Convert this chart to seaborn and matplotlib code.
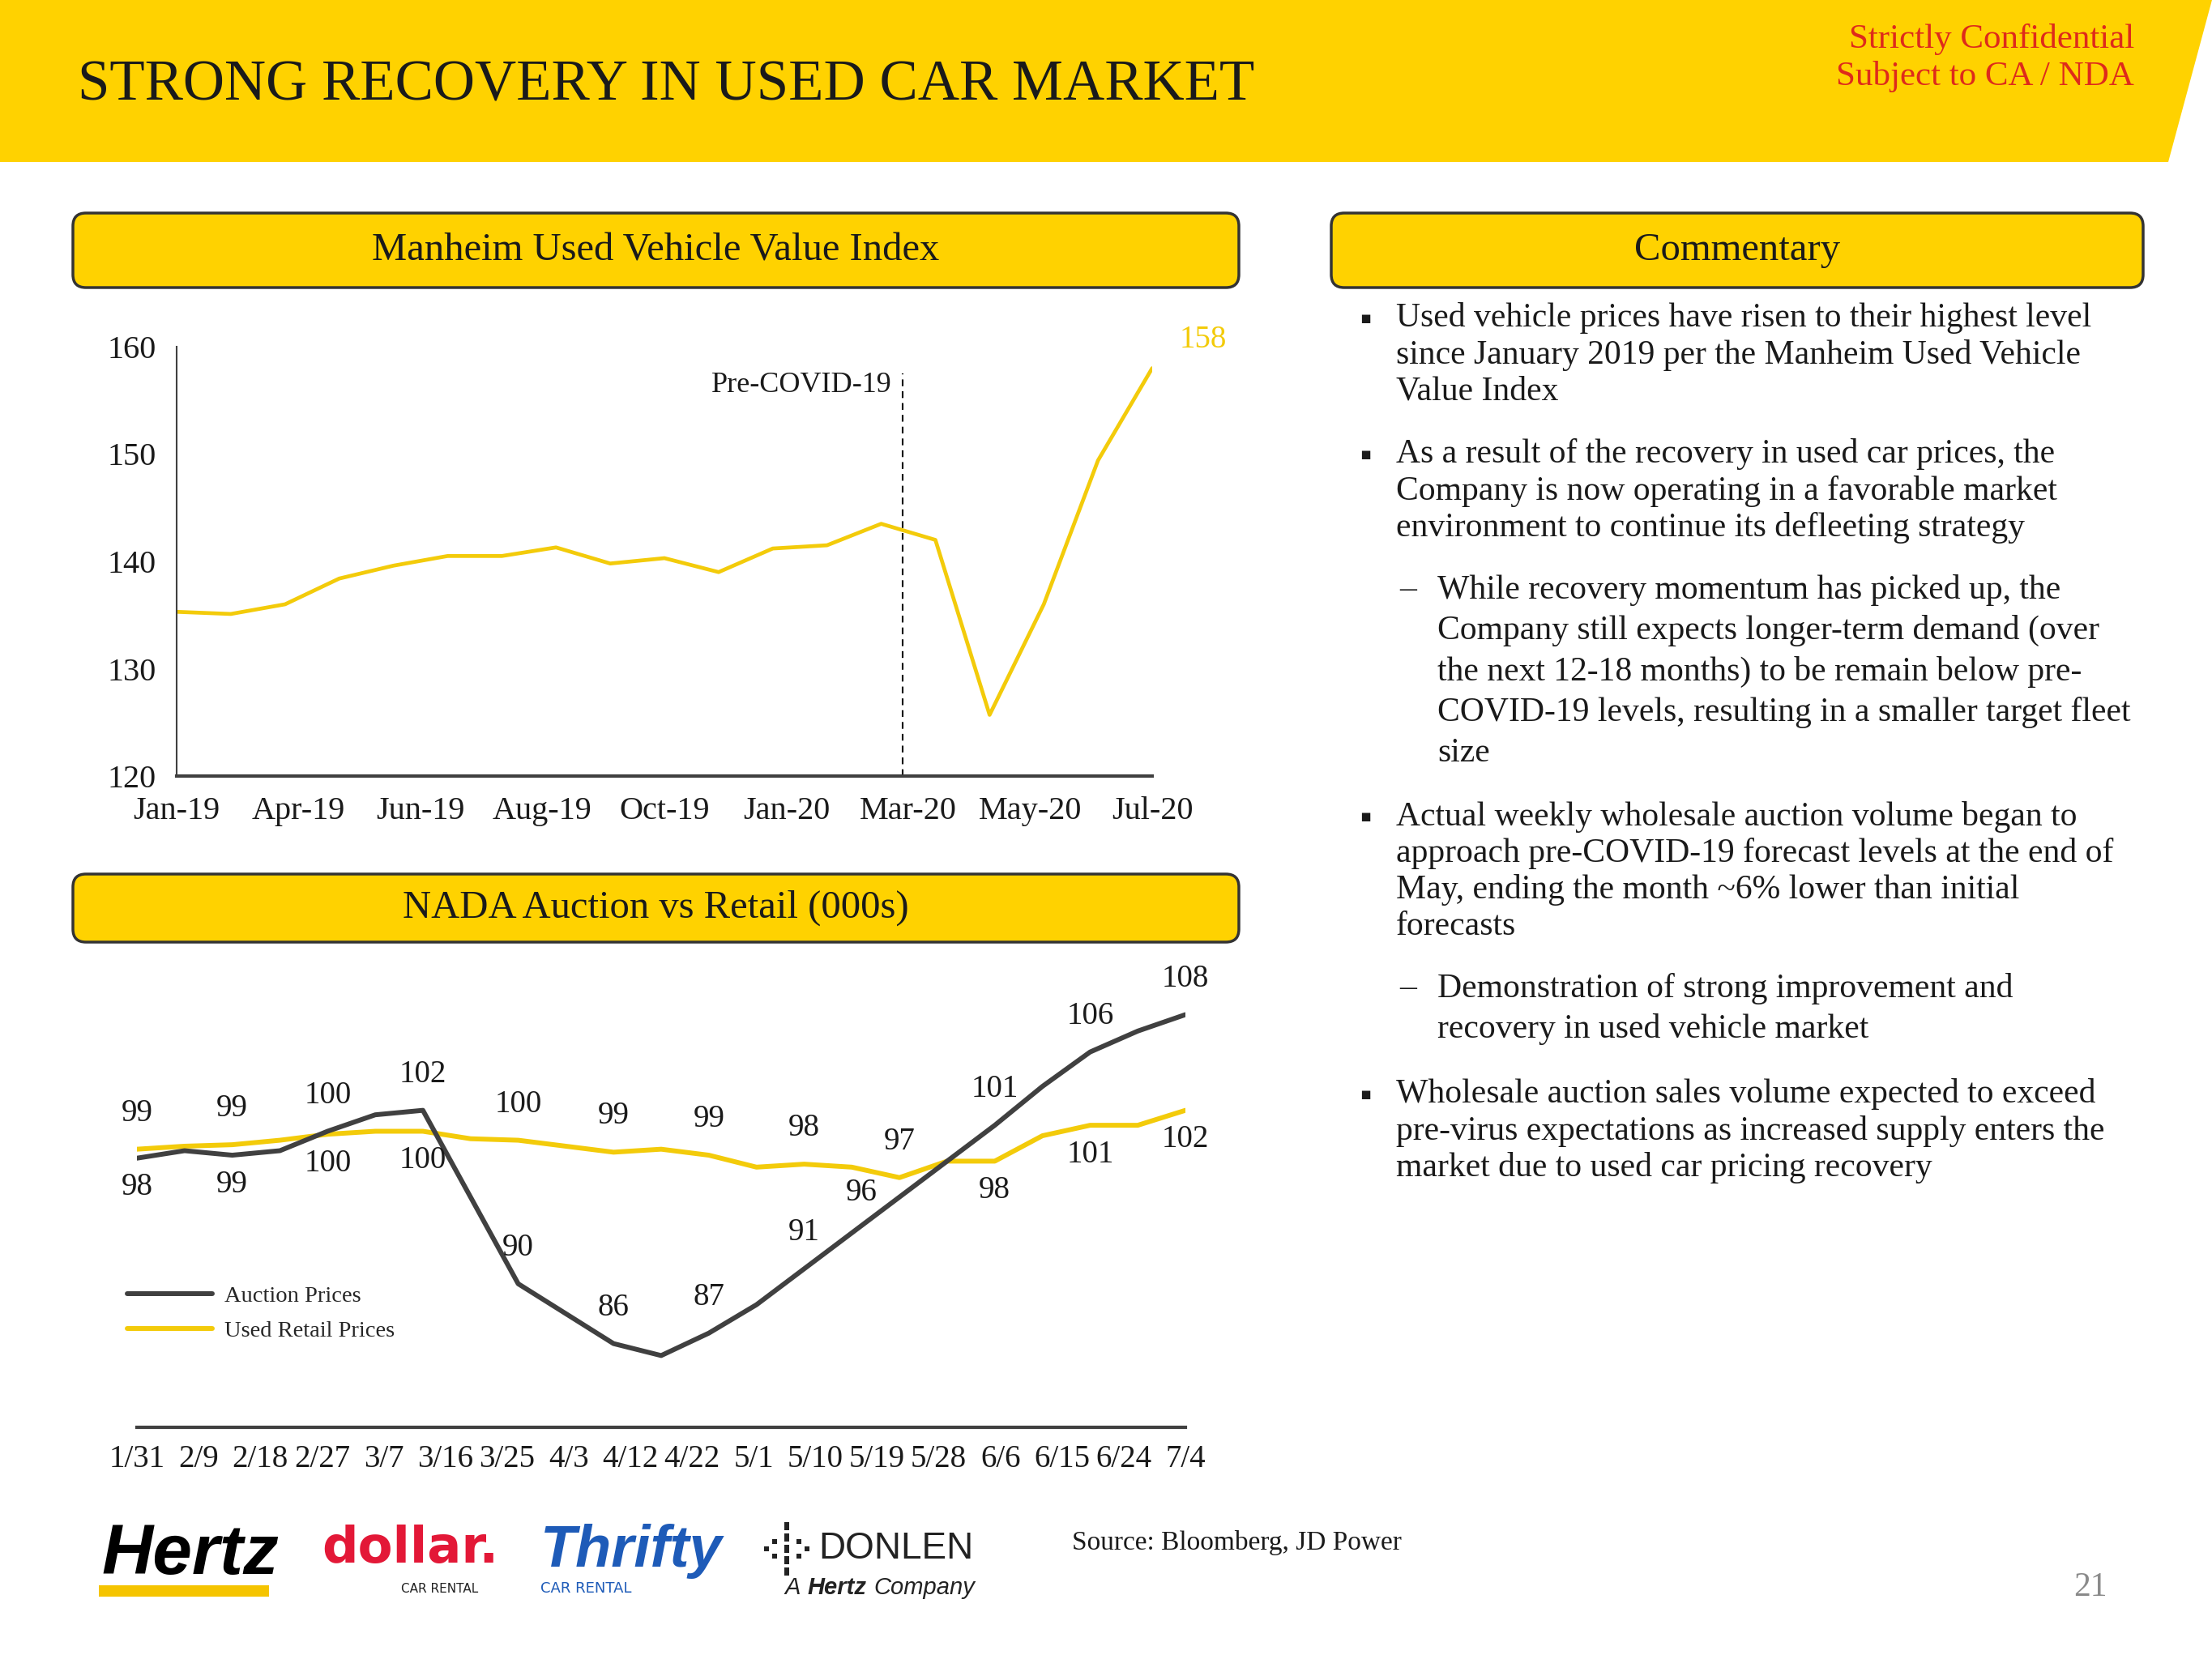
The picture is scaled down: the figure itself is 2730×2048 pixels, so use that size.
import numpy as np
import pandas as pd
import matplotlib
matplotlib.use("Agg")
import matplotlib.pyplot as plt
import seaborn as sns
from matplotlib.patches import Polygon, FancyBboxPatch, Rectangle

# ---- data -------------------------------------------------------------
manheim_values = [135.3, 135.1, 136.0, 138.4, 139.6, 140.5, 140.5, 141.3, 139.8, 140.3,
                  139.0, 141.2, 141.5, 143.5, 142.0, 125.7, 136.0, 149.4, 158.0]
manheim_tick_labels = ["Jan-19", "Apr-19", "Jun-19", "Aug-19", "Oct-19",
                       "Jan-20", "Mar-20", "May-20", "Jul-20"]
covid_marker = 13.4

nada_tick_labels = ["1/31", "2/9", "2/18", "2/27", "3/7", "3/16", "3/25", "4/3", "4/12",
                    "4/22", "5/1", "5/10", "5/19", "5/28", "6/6", "6/15", "6/24", "7/4"]
auction_prices = [98.4, 98.9, 98.6, 98.9, 100.2, 101.3, 101.6, 95.8, 90.0, 88.0, 86.0, 85.2,
                  86.7, 88.6, 91.0, 93.4, 95.8, 98.2, 100.6, 103.2, 105.5, 106.9, 108.0]
retail_prices = [99.0, 99.2, 99.3, 99.6, 100.0, 100.2, 100.2, 99.7, 99.6, 99.2, 98.8, 99.0,
                 98.6, 97.8, 98.0, 97.8, 97.1, 98.2, 98.2, 99.9, 100.6, 100.6, 101.6]

commentary = [
    ("bullet", ["Used vehicle prices have risen to their highest level",
                "since January 2019 per the Manheim Used Vehicle",
                "Value Index"]),
    ("bullet", ["As a result of the recovery in used car prices, the",
                "Company is now operating in a favorable market",
                "environment to continue its defleeting strategy"]),
    ("dash", ["While recovery momentum has picked up, the",
              "Company still expects longer-term demand (over",
              "the next 12-18 months) to be remain below pre-",
              "COVID-19 levels, resulting in a smaller target fleet",
              "size"]),
    ("bullet", ["Actual weekly wholesale auction volume began to",
                "approach pre-COVID-19 forecast levels at the end of",
                "May, ending the month ~6% lower than initial",
                "forecasts"]),
    ("dash", ["Demonstration of strong improvement and",
              "recovery in used vehicle market"]),
    ("bullet", ["Wholesale auction sales volume expected to exceed",
                "pre-virus expectations as increased supply enters the",
                "market due to used car pricing recovery"]),
]
para_tops = [393, 561, 728, 1008, 1220, 1351]

YELLOW = "#FFD200"
LINE_YELLOW = "#F3CB0A"
DARK = "#404040"
TXT = "#1a1a1a"

sns.set_style("white")
plt.rcParams["font.family"] = ["Liberation Serif", "DejaVu Serif"]

fig = plt.figure(figsize=(27.3, 20.48), dpi=100)
bg = fig.add_axes([0, 0, 1, 1])
bg.set_xlim(0, 2730)
bg.set_ylim(2048, 0)
bg.axis("off")

# header band
bg.add_patch(Polygon([(0, 0), (2730, 0), (2676, 200), (0, 200)], closed=True, fc=YELLOW, ec="none"))
bg.text(96, 106, "STRONG RECOVERY IN USED CAR MARKET", fontsize=51, va="center", ha="left", color=TXT)
bg.text(2634, 49, "Strictly Confidential", fontsize=31, va="center", ha="right", color="#DE2A1B")
bg.text(2634, 94, "Subject to CA / NDA", fontsize=31, va="center", ha="right", color="#DE2A1B")


def header_box(x0, y0, x1, y1, label):
    bg.add_patch(FancyBboxPatch((x0, y0), x1 - x0, y1 - y0,
                                boxstyle="round,pad=0,rounding_size=16",
                                fc=YELLOW, ec="#333333", lw=2.5))
    bg.text((x0 + x1) / 2, (y0 + y1) / 2, label, ha="center", va="center", fontsize=35, color=TXT)


header_box(90, 263, 1529, 355, "Manheim Used Vehicle Value Index")
header_box(90, 1079, 1529, 1163, "NADA Auction vs Retail (000s)")
header_box(1643, 263, 2645, 355, "Commentary")

# commentary text
for (kind, lines), top in zip(commentary, para_tops):
    if kind == "bullet":
        bg.text(1678, top, "\u25aa", fontsize=15, ha="left", va="center", color=TXT,
                family=["DejaVu Sans"])
        x, step = 1723, 45.3
    else:
        bg.text(1727, top, "\u2013", fontsize=30, ha="left", va="center", color=TXT)
        x, step = 1774, 50.5
    for k, line in enumerate(lines):
        bg.text(x, top + k * step, line, fontsize=30, ha="left", va="center", color=TXT)

# ---- Manheim chart ----------------------------------------------------
ax1 = fig.add_axes([218 / 2730, 1 - 958 / 2048, (1422 - 218) / 2730, (958 - 428) / 2048])
ax1.patch.set_alpha(0)
sns.lineplot(x=np.arange(len(manheim_values)), y=manheim_values, ax=ax1,
             color=LINE_YELLOW, linewidth=3.4)
ax1.set_xlim(0, len(manheim_values) - 1)
ax1.set_ylim(120, 160)
ax1.set_yticks([120, 130, 140, 150, 160])
ax1.set_xticks(np.linspace(0, len(manheim_values) - 1, len(manheim_tick_labels)))
ax1.set_xticklabels(manheim_tick_labels)
ax1.set_xlabel("")
ax1.set_ylabel("")
for s in ["top", "right"]:
    ax1.spines[s].set_visible(False)
ax1.spines["left"].set_color(DARK)
ax1.spines["left"].set_linewidth(1.5)
ax1.spines["bottom"].set_color(DARK)
ax1.spines["bottom"].set_linewidth(3)
ax1.tick_params(axis="both", direction="out", length=9, width=1.5, color=DARK,
                labelsize=29, labelcolor=TXT)
ax1.tick_params(axis="x", pad=9)
ax1.tick_params(axis="y", pad=9)
ax1.vlines(covid_marker, 120, 157.5, colors="black", linestyles=(0, (4, 3)), linewidth=1.5)
ax1.text(covid_marker - 0.2, 156.4, "Pre-COVID-19", ha="right", va="center", fontsize=26, color=TXT)
ax1.annotate(f"{manheim_values[-1]:.0f}", (len(manheim_values) - 1, manheim_values[-1]),
             xytext=(45, 25), textcoords="offset points", ha="center", va="center",
             fontsize=28, color=LINE_YELLOW, annotation_clip=False)

# ---- NADA chart -------------------------------------------------------
n = len(auction_prices)
nada = pd.DataFrame({
    "idx": list(range(n)) * 2,
    "value": auction_prices + retail_prices,
    "series": ["Auction Prices"] * n + ["Used Retail Prices"] * n,
})
ax2 = fig.add_axes([169 / 2730, 1 - 1762 / 2048, (1463 - 169) / 2730, (1762 - 1175) / 2048])
ax2.patch.set_alpha(0)
sns.lineplot(data=nada, x="idx", y="value", hue="series", ax=ax2,
             palette={"Auction Prices": DARK, "Used Retail Prices": LINE_YELLOW},
             linewidth=4.3)
for line in ax2.lines:
    if line.get_color() == DARK:
        line.set_zorder(3)
ax2.set_xlim(0, n - 1)
ax2.set_ylim(80.4, 112.2)
ax2.set_xticks(np.linspace(0, n - 1, len(nada_tick_labels)))
ax2.set_xticklabels(nada_tick_labels)
ax2.set_yticks([])
ax2.set_xlabel("")
ax2.set_ylabel("")
for s in ["top", "right", "left"]:
    ax2.spines[s].set_visible(False)
ax2.spines["bottom"].set_color(DARK)
ax2.spines["bottom"].set_linewidth(3)
ax2.tick_params(axis="x", direction="out", length=7, width=1.5, color=DARK,
                labelsize=28, labelcolor=TXT, pad=8)

for i in range(0, n, 2):
    a, r = auction_prices[i], retail_prices[i]
    r_off = (0, 32) if r >= a else (0, -26)
    if a > r or r - a >= 2:
        a_off = (0, 32)
    elif r - a < 1.2:
        a_off = (0, -26)
    else:
        a_off = (-34, 4)
    ax2.annotate(f"{r:.0f}", (i, r), xytext=r_off, textcoords="offset points",
                 ha="center", va="center", fontsize=28, color=TXT, annotation_clip=False)
    ax2.annotate(f"{a:.0f}", (i, a), xytext=a_off, textcoords="offset points",
                 ha="center", va="center", fontsize=28, color=TXT, annotation_clip=False)

handles, labels = ax2.get_legend_handles_labels()
ax2.legend(handles, labels, loc="upper left", bbox_to_anchor=(157 / 2730, 1 - 1587 / 2048),
           bbox_transform=fig.transFigure, frameon=False, fontsize=20.5, handlelength=3.7,
           handletextpad=0.5, labelspacing=0.6, borderpad=0, borderaxespad=0)

# ---- footer: logos, source, page number ------------------------------
bg.text(125, 1920, "Hertz", fontsize=63, fontweight="bold", fontstyle="italic",
        family=["Liberation Sans"], ha="left", va="center", color="black")
bg.add_patch(Rectangle((122, 1957), 210, 14, fc="#F5C400", ec="none"))

bg.text(397, 1912, "dollar.", fontsize=45, fontweight="bold", family=["DejaVu Sans"],
        ha="left", va="center", color="#E31837")
bg.text(543, 1961, "CAR RENTAL", fontsize=11, family=["DejaVu Sans"], ha="center",
        va="center", color="#222222")

bg.text(667, 1915, "Thrifty", fontsize=52, fontweight="bold", fontstyle="italic",
        family=["Liberation Sans"], ha="left", va="center", color="#1E5BB8")
bg.text(667, 1961, "CAR RENTAL", fontsize=13, family=["DejaVu Sans"], ha="left",
        va="center", color="#1E5BB8")

for yy in [1884, 1898, 1912, 1926, 1940]:
    bg.add_patch(Rectangle((968, yy - 5), 6, 10, fc="#222222", ec="none"))
for xx in [956, 986]:
    for yy in [1903, 1921]:
        bg.add_patch(Rectangle((xx - 3, yy - 3), 6, 6, fc="#222222", ec="none"))
for xx in [946, 996]:
    bg.add_patch(Rectangle((xx - 3, 1909), 6, 6, fc="#222222", ec="none"))
bg.text(1010, 1912, "DONLEN", fontsize=33, family=["Liberation Sans"], ha="left",
        va="center", color="#222222")
bg.text(968, 1960, "A", fontsize=21, fontstyle="italic", family=["Liberation Sans"],
        ha="left", va="center", color="#222222")
bg.text(996, 1960, "Hertz", fontsize=21, fontstyle="italic", fontweight="bold",
        family=["Liberation Sans"], ha="left", va="center", color="#222222")
bg.text(1078, 1960, "Company", fontsize=21, fontstyle="italic", family=["Liberation Sans"],
        ha="left", va="center", color="#222222")

bg.text(1323, 1905, "Source: Bloomberg, JD Power", fontsize=24, ha="left", va="center", color=TXT)
bg.text(2580, 1960, "21", fontsize=30, ha="center", va="center", color="#8a8a8a")

fig.savefig("out.png", dpi=100)
